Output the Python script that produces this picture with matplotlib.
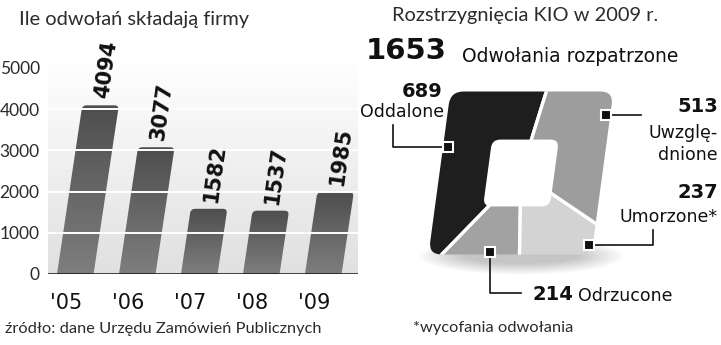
import numpy as np
import matplotlib
matplotlib.use("Agg")
import matplotlib.pyplot as plt
from matplotlib.colors import LinearSegmentedColormap
from matplotlib.patches import FancyBboxPatch, Ellipse
from matplotlib.lines import Line2D
from matplotlib.transforms import Affine2D


# Data ---------------------------------------------------------------

Years = ["'05", "'06", "'07", "'08", "'09"]
Appeals = [4094, 3077, 1582, 1537, 1985]
Y_Ticks = [0, 1000, 2000, 3000, 4000, 5000]
Grid_Levels = [1000, 2000, 3000, 4000]

Outcome_Names = ["Oddalone", "Odrzucone", "Umorzone", "Uwzględnione"]
Outcome_Values = [689, 214, 237, 513]
Outcome_Colors = ["#1e1e1e", "#a2a2a2", "#d3d3d3", "#9d9d9d"]
Total_Reviewed = 1653


# Figure -------------------------------------------------------------

W, H = 721, 345
fig = plt.figure(figsize=(W / 100, H / 100), dpi=100)

def fx(x):
    return x / W

def fy(y):
    return 1 - y / H

Light = dict(family=["Lato", "DejaVu Sans"], weight="normal", color="#2b2b2b")
Label = dict(family=["DejaVu Sans"], color="#111111")
Bold = dict(family=["DejaVu Sans"], weight="bold", color="#111111")


# Left: bar chart ----------------------------------------------------

Px_Per_K = 41.2
Y_Max = 5200
Base_Px = 274
X_Left, X_Right = -0.44, 4.56

ax = fig.add_axes([fx(48), fy(Base_Px), (358 - 48) / W, Y_Max / 1000 * Px_Per_K / H])

Bg_Cmap = LinearSegmentedColormap.from_list("bg", ["#e0e0e0", "#ffffff"])
ax.imshow(np.linspace(0, 1, 256).reshape(-1, 1), extent=[X_Left, X_Right, 0, Y_Max],
          origin="lower", cmap=Bg_Cmap, aspect="auto", zorder=0)

# bars lean to the right
Px_Per_X = 310 / (X_Right - X_Left)
Lean = 0.15 * (Px_Per_K / 1000) / Px_Per_X
Bar_Skew = Affine2D(np.array([[1, Lean, 0], [0, 1, 0], [0, 0, 1]]))
Aspect = (1000 / Px_Per_K) * Px_Per_X

X_Pos = np.arange(len(Appeals))
Bars = ax.bar(X_Pos, Appeals, width=0.59, color="none", zorder=2)

Bar_Cmap = LinearSegmentedColormap.from_list("bar", ["#7e7e7e", "#4e4e4e"])
for Bar, Val, X in zip(Bars, Appeals, X_Pos):
    Bar.set_transform(Bar_Skew + ax.transData)
    # rounded top, bottom pushed below the axis so only the top corners show
    Shape = FancyBboxPatch((Bar.get_x(), -400), Bar.get_width(), Bar.get_height() + 400,
                           boxstyle="round,pad=0,rounding_size=0.07", mutation_aspect=Aspect,
                           transform=Bar_Skew + ax.transData)
    Grad = ax.imshow(np.linspace(0, 1, 100).reshape(-1, 1), extent=[X - 0.5, X + 1.0, 0, Val],
                     origin="lower", cmap=Bar_Cmap, aspect="auto", zorder=2.1)
    Grad.set_clip_path(Shape)

    ax.annotate(str(Val), (X + Lean * Val, Val), xytext=(1, 5), textcoords="offset points",
                rotation=82, rotation_mode="anchor", ha="left", va="center",
                fontsize=15, annotation_clip=False, zorder=6, **Bold)

for Level in Grid_Levels:
    ax.axhline(Level, color="white", lw=1.4, zorder=3)
ax.axhline(0, color="#111111", lw=1.8, zorder=4)

ax.set_xlim(X_Left, X_Right)
ax.set_ylim(0, Y_Max)

for s in ax.spines.values():
    s.set_visible(False)

ax.set_yticks(Y_Ticks)
ax.set_yticklabels([str(t) for t in Y_Ticks], fontsize=12.5, **Light)
ax.set_xticks(X_Pos - 0.15)
ax.set_xticklabels(Years, fontsize=15, **Label)
ax.tick_params(axis="y", length=0, pad=6)
ax.tick_params(axis="x", length=0, pad=14)

fig.text(fx(19), fy(19), "Ile odwołań składają firmy", fontsize=14.4, va="center", **Light)
fig.text(fx(5), fy(329), "źródło: dane Urzędu Zamówień Publicznych", fontsize=11.8, va="center", **Light)


# Right: outcomes ----------------------------------------------------

Cx, Cy, Half = 521, 173, 81.5
Span = 1.3
ax2 = fig.add_axes([fx(Cx - Span * Half), fy(Cy + Span * Half), 2 * Span * Half / W, 2 * Span * Half / H])

# soft shadow under the block
for k in range(10):
    ax2.add_patch(Ellipse((0.0, -1.02), 2.5 - k * 0.12, 0.45 - k * 0.03,
                          color="black", alpha=0.022, lw=0, zorder=0))

Wedges, _ = ax2.pie(Outcome_Values, colors=Outcome_Colors, startangle=80, counterclock=True,
                    radius=1.8, wedgeprops=dict(edgecolor="white", linewidth=2.4))

Pie_Skew = Affine2D(np.array([[1, 0.135, 0], [0, 1, 0], [0, 0, 1]]))
T = Pie_Skew + ax2.transData

Outer = FancyBboxPatch((-1, -1), 2, 2, boxstyle="round,pad=0,rounding_size=0.16", transform=T)
for Wd in Wedges:
    Wd.set_transform(T)
    Wd.set_clip_on(True)
    Wd.set_clip_path(Outer)
    Wd.set_zorder(2)

ax2.add_patch(FancyBboxPatch((-0.41, -0.41), 0.82, 0.82, boxstyle="round,pad=0,rounding_size=0.1",
                             fc="white", ec="none", transform=T, zorder=5))

ax2.set_xlim(-Span, Span)
ax2.set_ylim(-Span, Span)
ax2.axis("off")

fig.text(fx(392), fy(15), "Rozstrzygnięcia KIO w 2009 r.", fontsize=14.4, va="center", **Light)
fig.text(fx(366), fy(51), str(Total_Reviewed), fontsize=21, va="center", **Bold)
fig.text(fx(462), fy(56), "Odwołania rozpatrzone", fontsize=13.5, va="center", **Label)

Values = dict(zip(Outcome_Names, Outcome_Values))

fig.text(fx(443), fy(92), str(Values["Oddalone"]), fontsize=14, ha="right", va="center", **Bold)
fig.text(fx(444), fy(112), "Oddalone", fontsize=12.5, ha="right", va="center", **Label)

fig.text(fx(718), fy(107), str(Values["Uwzględnione"]), fontsize=14, ha="right", va="center", **Bold)
fig.text(fx(718), fy(133), "Uwzglę-", fontsize=12.5, ha="right", va="center", **Label)
fig.text(fx(718), fy(155), "dnione", fontsize=12.5, ha="right", va="center", **Label)

fig.text(fx(718), fy(193), str(Values["Umorzone"]), fontsize=14, ha="right", va="center", **Bold)
fig.text(fx(718), fy(217), "Umorzone*", fontsize=12.5, ha="right", va="center", **Label)

fig.text(fx(532), fy(295), str(Values["Odrzucone"]), fontsize=14, va="center", **Bold)
fig.text(fx(578), fy(296), "Odrzucone", fontsize=12.5, va="center", **Label)

fig.text(fx(413), fy(328), "*wycofania odwołania", fontsize=11.8, va="center", **Light)

# connectors
Leaders = [
    ([448, 393, 393], [147, 147, 125]),
    ([606, 641], [115, 115]),
    ([589, 653, 653], [245, 245, 230]),
    ([490, 490, 521], [252, 293, 293]),
]
for Xs, Ys in Leaders:
    fig.add_artist(Line2D([fx(x) for x in Xs], [fy(y) for y in Ys], transform=fig.transFigure,
                          color="#111111", lw=1.2, zorder=6))
    fig.add_artist(Line2D([fx(Xs[0])], [fy(Ys[0])], transform=fig.transFigure, marker="s",
                          markersize=6.5, mfc="#111111", mec="white", mew=1.5, lw=0, zorder=7))

plt.savefig("out.png", dpi=100)
